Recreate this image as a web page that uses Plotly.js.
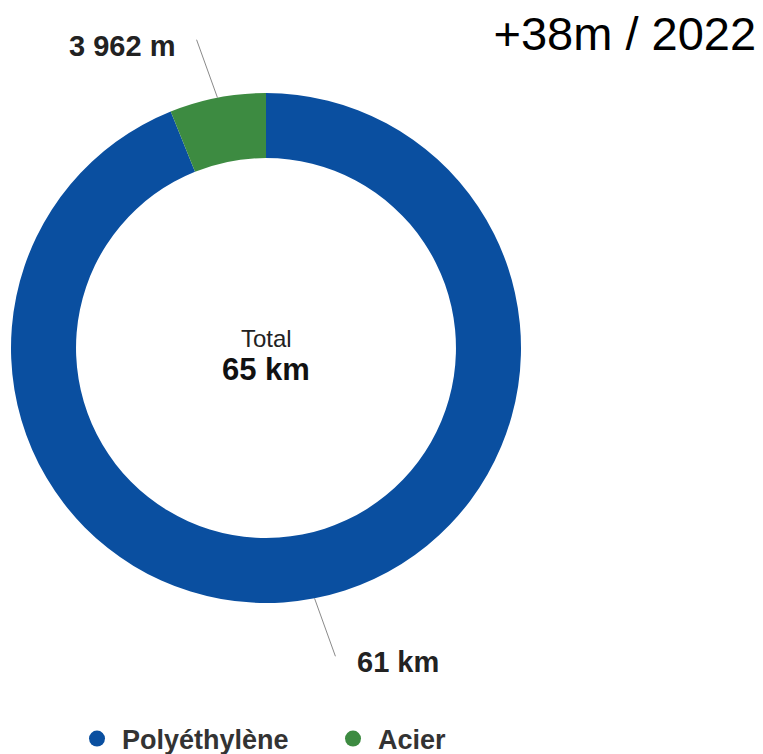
<!DOCTYPE html>
<html><head><meta charset="utf-8">
<script src="https://cdn.plot.ly/plotly-3.0.1.min.js"></script>
<style>html,body{margin:0;padding:0;background:#fff}#chart{width:763px;height:754px}</style>
</head><body><div id="chart"></div>
<script>
const categories = ["Polyéthylène", "Acier"];
const values = [61038, 3962];
const valueLabels = ["61 km", "3 962 m"];
const colors = ["#0a4fa0", "#3d8b41"];
const totalLabel = "65 km";
const titleText = "+38m / 2022";

const W = 763, H = 754;
const cx = 266, cy = 348, R = 255;
const dom = {x: [(cx - R) / W, (cx + R) / W], y: [(H - cy - R) / H, (H - cy + R) / H]};
const FONT = "Liberation Sans, Arial, sans-serif";

const total = values.reduce((a, b) => a + b, 0);
const shapes = [], annotations = [];
let cum = 0;
values.forEach((v, i) => {
  const mid = (cum + v / 2) / total * 2 * Math.PI; // clockwise from top
  cum += v;
  const tilt = Math.sign(Math.sin(mid)) * Math.sign(Math.cos(mid)) * 0.03;
  const x0 = cx + R * Math.sin(mid), y0 = cy - R * Math.cos(mid);
  const a2 = mid + tilt;
  const R2 = R + 61;
  const x1 = cx + R2 * Math.sin(a2), y1 = cy - R2 * Math.cos(a2);
  shapes.push({type: "line", xref: "paper", yref: "paper",
    x0: x0 / W, y0: 1 - y0 / H, x1: x1 / W, y1: 1 - y1 / H,
    line: {color: "#8a8a8a", width: 1}});
  const right = Math.sin(a2) >= 0;
  annotations.push({xref: "paper", yref: "paper", showarrow: false,
    x: (x1 + (right ? 20 : -20)) / W, y: 1 - (y1 + 6) / H,
    xanchor: right ? "left" : "right", yanchor: "middle",
    text: "<b>" + valueLabels[i] + "</b>",
    font: {family: FONT, size: 29, color: "#222"}});
});
annotations.push({xref: "paper", yref: "paper", showarrow: false,
  x: cx / W, y: 1 - 338 / H, xanchor: "center", yanchor: "middle",
  text: "Total", font: {family: FONT, size: 24, color: "#222"}});
annotations.push({xref: "paper", yref: "paper", showarrow: false,
  x: cx / W, y: 1 - 369 / H, xanchor: "center", yanchor: "middle",
  text: "<b>" + totalLabel + "</b>", font: {family: FONT, size: 31, color: "#111"}});

const data = [{
  type: "pie", labels: categories, values: values, hole: 0.745,
  sort: false, direction: "clockwise", rotation: 0,
  marker: {colors: colors, line: {width: 0}},
  textinfo: "none", hoverinfo: "label+value", showlegend: false, domain: dom
}];
categories.forEach((c, i) => {
  data.push({type: "scatter", mode: "markers", x: [null], y: [null], name: c,
    marker: {color: colors[i], size: 18, symbol: "circle"}, showlegend: true});
});

const layout = {
  width: W, height: H, margin: {l: 0, r: 0, t: 0, b: 0, autoexpand: false},
  paper_bgcolor: "#fff", plot_bgcolor: "#fff",
  title: {text: titleText, x: 0.991, xanchor: "right", xref: "container",
    y: 1 - 34 / H, yanchor: "middle", yref: "container",
    font: {family: FONT, size: 47, color: "#000"}},
  xaxis: {visible: false}, yaxis: {visible: false},
  showlegend: true,
  legend: {orientation: "h", x: 72 / W, xanchor: "left", xref: "container",
    y: 1 - 739 / H, yanchor: "middle", yref: "container",
    font: {family: FONT, size: 27, color: "#333", weight: "bold"},
    itemwidth: 40, entrywidth: 201, tracegroupgap: 0},
  shapes: shapes, annotations: annotations
};
Plotly.newPlot("chart", data, layout, {displayModeBar: false, staticPlot: true});
</script></body></html>
